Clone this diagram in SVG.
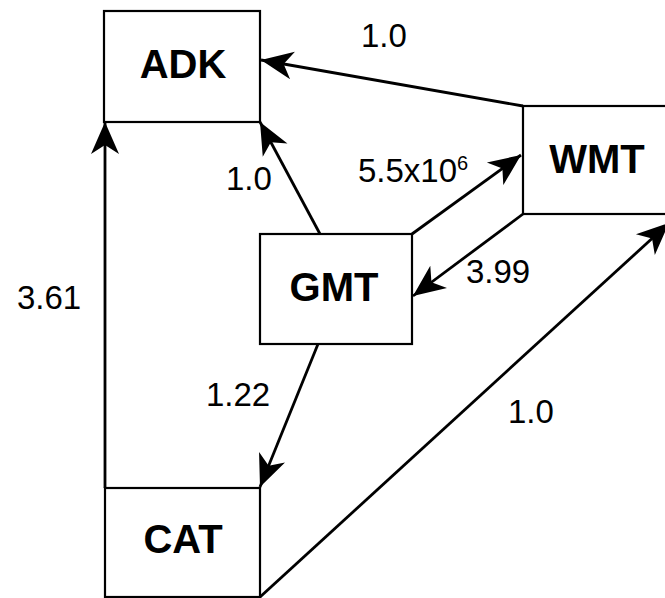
<svg xmlns="http://www.w3.org/2000/svg" width="665" height="598" viewBox="0 0 665 598">
<defs>
<style>
.box{fill:#fff;stroke:#000;stroke-width:2.2}
.lbl{font-family:"Liberation Sans",Arial,sans-serif;font-weight:bold;font-size:40px;text-anchor:middle;fill:#000}
.num{font-family:"Liberation Sans",Arial,sans-serif;font-size:33px;fill:#000}
.edge{stroke:#000;stroke-width:2.8;fill:none;marker-end:url(#arr)}
</style>
<marker id="arr" viewBox="0 0 32 30" refX="32" refY="15" markerWidth="32" markerHeight="30" markerUnits="userSpaceOnUse" orient="auto">
<path d="M32,15 L0,1 L9,15 L0,29 Z" fill="#000"/>
</marker>
</defs>
<rect width="665" height="598" fill="#fff"/>
<g id="ADK"><rect class="box" x="104" y="11" width="156" height="111"/><text class="lbl" x="183" y="78">ADK</text></g>
<g id="WMT"><rect class="box" x="523" y="106" width="150" height="108"/><text class="lbl" x="597" y="173">WMT</text></g>
<g id="GMT"><rect class="box" x="260" y="234" width="152" height="110"/><text class="lbl" x="334" y="301">GMT</text></g>
<g id="CAT"><rect class="box" x="105" y="488" width="155" height="109"/><text class="lbl" x="183" y="553">CAT</text></g>
<g id="connectors">
<line class="edge" x1="523" y1="106" x2="261" y2="60"/>
<line class="edge" x1="320" y1="234" x2="260" y2="122"/>
<line class="edge" x1="412" y1="234" x2="521" y2="155"/>
<line class="edge" x1="523" y1="214" x2="413" y2="296"/>
<line class="edge" x1="318" y1="344" x2="260" y2="487"/>
<line class="edge" x1="260" y1="597" x2="669" y2="223"/>
<line class="edge" x1="105" y1="488" x2="105" y2="122"/>
</g>
<g id="labels">
<text class="num" x="361" y="47" font-size="30">1.0</text>
<text class="num" x="226" y="190">1.0</text>
<text class="num" x="358" y="182">5.5x10<tspan font-size="20" dy="-12">6</tspan></text>
<text class="num" x="466" y="283">3.99</text>
<text class="num" x="17" y="309">3.61</text>
<text class="num" x="206" y="406">1.22</text>
<text class="num" x="508" y="423">1.0</text>
</g>
</svg>
